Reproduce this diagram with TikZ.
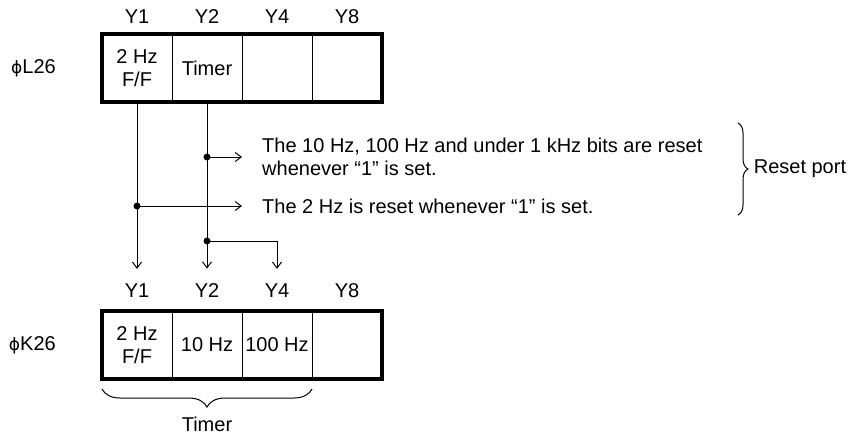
\documentclass[tikz,border=0pt]{standalone}
\usepackage{fontspec}
\setmainfont{Liberation Sans}
\newfontfamily\phifont{DejaVu Sans}
\usepackage{tikz}
\usetikzlibrary{arrows.meta,positioning,decorations.pathreplacing}

\begin{document}
\begin{tikzpicture}[
    x=1pt, y=-1pt,
    font=\fontsize{20}{23}\selectfont,
    node distance=0pt,
    cell/.style={draw, line width=1pt, minimum width=70pt, minimum height=68pt, align=center, inner sep=0pt, outer sep=0pt},
    frame/.style={line width=3.5pt},
    tag/.style={inner sep=0pt},
    note/.style={anchor=west, align=left, inner ysep=4pt, inner xsep=20pt},
    dot/.style={circle, fill, inner sep=0pt, minimum size=7pt},
    arr/.style={-{Straight Barb[length=6pt,width=9pt]}, line width=1pt},
    brace/.style={decorate, line width=1pt}
]
\useasboundingbox (0,0) rectangle (850,439);

% register L26
\node[cell] (Lff) at (137,68) {2 Hz\\F/F};
\node[cell, right=of Lff] (Ltimer) {Timer};
\node[cell, right=of Ltimer] (Lfour) {};
\node[cell, right=of Lfour] (Leight) {};
\draw[frame] (Lff.north west) rectangle (Leight.south east);
\node[tag, above=10pt of Lff] (Ly1) {Y1};
\node[tag, above=10pt of Ltimer] (Ly2) {Y2};
\node[tag, above=10pt of Lfour] (Ly4) {Y4};
\node[tag, above=10pt of Leight] (Ly8) {Y8};
\node[tag, left=46pt of Lff] (Lname) {{\phifont\fontsize{17}{20}\selectfont ϕ}L26};

% register K26
\node[cell, below=209pt of Lff] (Kff) {2 Hz\\F/F};
\node[cell, right=of Kff] (Kten) {10 Hz};
\node[cell, right=of Kten] (Khundred) {100 Hz};
\node[cell, right=of Khundred] (Keight) {};
\draw[frame] (Kff.north west) rectangle (Keight.south east);
\node[tag, above=13pt of Kff] (Ky1) {Y1};
\node[tag, above=13pt of Kten] (Ky2) {Y2};
\node[tag, above=13pt of Khundred] (Ky4) {Y4};
\node[tag, above=13pt of Keight] (Ky8) {Y8};
\node[tag, left=46pt of Kff] (Kname) {{\phifont\fontsize{17}{20}\selectfont ϕ}K26};

% reset notes
\node[note] (resetHi) at (242,157) {The 10 Hz, 100 Hz and under 1 kHz bits are reset\\whenever “1” is set.};
\node[note] (resetLo) at (242,206) {The 2 Hz is reset whenever “1” is set.};

\node[dot] (tapHi) at (Ltimer.south |- resetHi.west) {};
\node[dot] (tapLo) at (Lff.south |- resetLo.west) {};
\node[dot] (tapK) at (207,241) {};

\draw[arr, shorten >=15pt] (Lff) -- (Ky1);
\draw[arr, shorten >=15pt] (Ltimer) -- (Ky2);
\draw[arr, shorten >=15pt] (tapK.center) -| (Ky4);
\draw[arr] (tapHi.center) -- (resetHi.west);
\draw[arr] (tapLo.center) -- (resetLo.west);

% braces
\draw[brace, decoration={brace, amplitude=10pt}] (738,123) -- node[right=12pt] (resetPort) {Reset port} (738,215);
\draw[brace, decoration={brace, amplitude=18pt}] ([yshift=-10pt]Khundred.south east) -- node[below=24pt] (timerTag) {Timer} ([yshift=-10pt]Kff.south west);
\end{tikzpicture}
\end{document}
